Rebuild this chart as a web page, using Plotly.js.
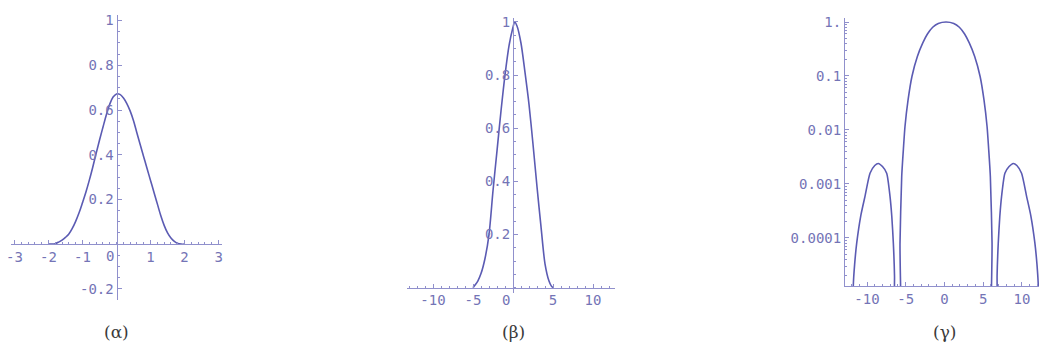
<!DOCTYPE html>
<html>
<head>
<meta charset="utf-8">
<script src="https://cdn.plot.ly/plotly-3.0.1.min.js"></script>
<style>
  html, body { margin: 0; padding: 0; background: #ffffff; }
  #chart { width: 1039px; height: 349px; }
</style>
</head>
<body>
<div id="chart"></div>
<script>
// ---- (α) pulse ----
const alphaX = [-2.0, -1.9, -1.8, -1.7, -1.6, -1.5, -1.4, -1.3, -1.2, -1.1, -1.0, -0.9, -0.8, -0.7, -0.6, -0.5, -0.4, -0.3, -0.2, -0.1, 0.0,
                0.1, 0.2, 0.3, 0.4, 0.5, 0.6, 0.7, 0.8, 0.9, 1.0, 1.1, 1.2, 1.3, 1.4, 1.5, 1.6, 1.7, 1.8, 1.9, 2.0];
const alphaY = [0, 0, 0.002, 0.009, 0.018, 0.03, 0.045, 0.07, 0.102, 0.14, 0.185, 0.232, 0.285, 0.343, 0.405, 0.465, 0.522, 0.578, 0.625, 0.658, 0.672,
                0.67, 0.655, 0.63, 0.596, 0.552, 0.497, 0.443, 0.39, 0.337, 0.285, 0.232, 0.18, 0.128, 0.084, 0.05, 0.027, 0.012, 0.003, 0, 0];
const alphaXTicks = [-3, -2, -1, 1, 2, 3];
const alphaXText = ["-3", "-2", "-1", "1", "2", "3"];
const alphaYTicks = [-0.2, 0.2, 0.4, 0.6, 0.8, 1];
const alphaYText = ["-0.2", "0.2", "0.4", "0.6", "0.8", "1"];

// ---- (β) pulse ----
const betaX = [-5.0, -4.8, -4.4, -4.0, -3.5, -3.0, -2.5, -2.0, -1.5, -1.0, -0.5, 0.0, 0.2, 0.5, 1.0, 1.5, 2.0, 2.5, 3.0, 3.5, 4.0, 4.5, 4.8, 5.0];
const betaY = [0, 0.008, 0.025, 0.053, 0.11, 0.2, 0.365, 0.515, 0.665, 0.8, 0.91, 0.98, 1.0, 0.985, 0.92, 0.81, 0.69, 0.54, 0.38, 0.23, 0.09, 0.025, 0.006, 0];
const betaXTicks = [-10, -5, 5, 10];
const betaXText = ["-10", "-5", "5", "10"];
const betaYTicks = [0.2, 0.4, 0.6, 0.8, 1];
const betaYText = ["0.2", "0.4", "0.6", "0.8", "1"];

// ---- (γ) spectrum, log scale ----
const gammaX = [-11.85, -11.77, -11.6, -11.33, -10.8, -10.26, -9.61, -9.0, -8.54, -8.0, -7.46, -7.03, -6.8, -6.6, -6.45, -6.38,
                -5.8, -5.74, -5.52, -5.3, -5.1, -4.7, -4.2, -3.5, -2.8, -2.2, -1.52, -0.8, 0.2, 1.2, 1.92, 2.6, 3.2, 3.9, 4.6, 5.1, 5.5, 5.7, 5.92, 6.14, 6.2,
                6.72, 6.79, 6.94, 7.14, 7.37, 7.8, 8.34, 8.88, 9.34, 9.95, 10.6, 11.14, 11.67, 11.94, 12.11, 12.19];
const gammaY = [1e-7, 1.3e-5, 3.2e-5, 8e-5, 2.6e-4, 5.9e-4, 1.58e-3, 2.2e-3, 2.4e-3, 2.1e-3, 1.58e-3, 5.9e-4, 2.5e-4, 8e-5, 2e-5, 1e-7,
                1e-7, 8e-5, 1.38e-3, 4.5e-3, 0.0115, 0.036, 0.098, 0.23, 0.41, 0.6, 0.8, 0.94, 1.0, 0.94, 0.8, 0.6, 0.41, 0.23, 0.098, 0.036, 0.0115, 0.0045, 1.38e-3, 8e-5, 1e-7,
                1e-7, 2e-5, 8e-5, 2.5e-4, 5.9e-4, 1.58e-3, 2.1e-3, 2.4e-3, 2.2e-3, 1.58e-3, 5.9e-4, 2.6e-4, 8e-5, 3.2e-5, 1.3e-5, 1e-7];
const gammaXTicks = [-10, -5, 0, 5, 10];
const gammaXText = ["-10", "-5", "0", "5", "10"];
const gammaYTicks = [1, 0.1, 0.01, 0.001, 0.0001];
const gammaYText = ["1.", "0.1", "0.01", "0.001", "0.0001"];

const panelLabels = ["(α)", "(β)", "(γ)"];

// ---- page geometry (pixels) ----
const W = 1039, H = 349;
const fx = p => p / W;          // horizontal pixel -> paper fraction
const fy = p => 1 - p / H;      // vertical pixel -> paper fraction

const LINE = '#5b5bb3';
const AXIS = '#9090cc';
const MONO = 'DejaVu Sans Mono';
const SERIF = 'DejaVu Serif';
const tickFont = () => ({ family: MONO, size: 14, color: '#7474b6' });

// where a data value sits inside an axis domain, as a paper fraction
function at(value, range, domain) {
  return domain[0] + (value - range[0]) / (range[1] - range[0]) * (domain[1] - domain[0]);
}

const aXR = [-3.1, 3.1],   aXD = [fx(11), fx(222)];
const aYR = [-0.25, 1.025], aYD = [fy(300), fy(15)];
const bXR = [-13.25, 12.75], bXD = [fx(407), fx(615)];
const bYR = [-0.02, 1.015], bYD = [fy(293), fy(18)];
const gXR = [-12.84, 12.2], gXD = [fx(845), fx(1039)];
const gYR = [-4.89, 0.074], gYD = [fy(286), fy(18)];

function axisBase() {
  return {
    showgrid: false, zeroline: false, showline: true,
    linecolor: AXIS, linewidth: 1,
    ticks: 'inside', ticklen: 4, tickcolor: AXIS, tickwidth: 1,
    tickfont: tickFont(), tickmode: 'array', fixedrange: true
  };
}

const traces = [
  { x: alphaX, y: alphaY, xaxis: 'x', yaxis: 'y', mode: 'lines',
    line: { color: LINE, width: 1.6, shape: 'spline', smoothing: 1 }, hoverinfo: 'skip' },
  { x: betaX, y: betaY, xaxis: 'x2', yaxis: 'y2', mode: 'lines',
    line: { color: LINE, width: 1.6, shape: 'spline', smoothing: 0.8 }, hoverinfo: 'skip' },
  { x: gammaX, y: gammaY, xaxis: 'x3', yaxis: 'y3', mode: 'lines',
    line: { color: LINE, width: 1.6, shape: 'spline', smoothing: 0.6 }, hoverinfo: 'skip' }
];

const layout = {
  width: W, height: H,
  margin: { l: 0, r: 0, t: 0, b: 0, pad: 0 },
  paper_bgcolor: '#ffffff', plot_bgcolor: 'rgba(0,0,0,0)',
  showlegend: false,
  font: { family: MONO },

  // (α): axes cross at the origin
  xaxis: Object.assign(axisBase(), {
    domain: aXD, range: aXR, anchor: 'free', position: at(0, aYR, aYD),
    tickvals: alphaXTicks, ticktext: alphaXText,
    minor: { dtick: 0.2, tick0: 0, ticklen: 2, tickcolor: AXIS, ticks: 'inside' }
  }),
  yaxis: Object.assign(axisBase(), {
    domain: aYD, range: aYR, anchor: 'free', position: at(0, aXR, aXD),
    tickvals: alphaYTicks, ticktext: alphaYText,
    minor: { dtick: 0.05, tick0: 0, ticklen: 2, tickcolor: AXIS, ticks: 'inside' }
  }),

  // (β): axes cross at the origin
  xaxis2: Object.assign(axisBase(), {
    domain: bXD, range: bXR, anchor: 'free', position: at(0, bYR, bYD),
    tickvals: betaXTicks, ticktext: betaXText,
    minor: { dtick: 1, tick0: 0, ticklen: 2, tickcolor: AXIS, ticks: 'inside' }
  }),
  yaxis2: Object.assign(axisBase(), {
    domain: bYD, range: bYR, anchor: 'free', position: at(0, bXR, bXD),
    tickvals: betaYTicks, ticktext: betaYText,
    minor: { dtick: 0.05, tick0: 0, ticklen: 2, tickcolor: AXIS, ticks: 'inside' }
  }),

  // (γ): log-scaled frame with axes on the left and bottom
  xaxis3: Object.assign(axisBase(), {
    domain: gXD, range: gXR, anchor: 'y3',
    tickvals: gammaXTicks, ticktext: gammaXText,
    minor: { dtick: 1, tick0: 0, ticklen: 2, tickcolor: AXIS, ticks: 'inside' }
  }),
  yaxis3: Object.assign(axisBase(), {
    type: 'log', domain: gYD, range: gYR, anchor: 'x3',
    tickvals: gammaYTicks, ticktext: gammaYText,
    minor: { dtick: 'D1', ticklen: 2, tickcolor: AXIS, ticks: 'inside' }
  }),

  annotations: [
    { xref: 'x', yref: 'y', x: 0, y: 0, text: '0', showarrow: false,
      xanchor: 'right', yanchor: 'top', xshift: -1, yshift: -2, font: tickFont() },
    { xref: 'x2', yref: 'y2', x: 0, y: 0, text: '0', showarrow: false,
      xanchor: 'right', yanchor: 'top', xshift: -1, yshift: -2, font: tickFont() }
  ]
};

// panel captions under each plot
const captionX = [at(0, aXR, aXD), at(0, bXR, bXD), at(0, gXR, gXD)];
panelLabels.forEach((t, i) => {
  layout.annotations.push({
    xref: 'paper', yref: 'paper', x: captionX[i], y: fy(332), text: t,
    showarrow: false, xanchor: 'center', yanchor: 'middle',
    font: { family: SERIF, size: 17, color: '#3a3a3a' }
  });
});

Plotly.newPlot('chart', traces, layout, { staticPlot: true, displayModeBar: false });
</script>
</body>
</html>
